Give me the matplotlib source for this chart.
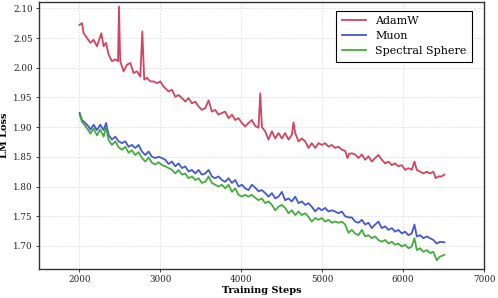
import matplotlib
matplotlib.use("Agg")
import matplotlib.pyplot as plt

# AdamW (red)
adamw_steps = [2000, 2033, 2053, 2095, 2136, 2177, 2218, 2272, 2300, 2330,
               2362, 2403, 2444, 2478, 2490, 2505, 2547, 2589, 2630, 2670,
               2712, 2753, 2778, 2802, 2835, 2877, 2918, 2959, 3000, 3041,
               3082, 3103, 3144, 3185, 3226, 3268, 3309, 3350, 3391, 3432,
               3473, 3514, 3556, 3597, 3638, 3679, 3720, 3761, 3802, 3844,
               3885, 3926, 3967, 4008, 4049, 4090, 4131, 4173, 4214, 4235,
               4256, 4296, 4337, 4379, 4420, 4461, 4502, 4543, 4584, 4625,
               4646, 4667, 4708, 4749, 4790, 4831, 4872, 4914, 4955, 4996,
               5037, 5078, 5119, 5160, 5202, 5243, 5284, 5313, 5333, 5366,
               5407, 5449, 5490, 5531, 5572, 5613, 5654, 5695, 5737, 5778,
               5819, 5860, 5901, 5942, 5984, 6025, 6066, 6107, 6140, 6169,
               6210, 6251, 6292, 6333, 6374, 6403, 6436, 6477, 6510]
adamw_loss = [2.072, 2.075, 2.058, 2.050, 2.042, 2.047, 2.036, 2.058, 2.036, 2.042,
              2.022, 2.011, 2.014, 2.011, 2.103, 2.011, 1.994, 2.005, 2.008, 1.991,
              1.994, 1.985, 2.061, 1.980, 1.983, 1.977, 1.977, 1.974, 1.977, 1.968,
              1.963, 1.960, 1.963, 1.951, 1.954, 1.949, 1.943, 1.949, 1.940, 1.943,
              1.935, 1.929, 1.932, 1.945, 1.926, 1.929, 1.921, 1.924, 1.926, 1.915,
              1.921, 1.912, 1.915, 1.907, 1.901, 1.907, 1.912, 1.902, 1.899, 1.957,
              1.900, 1.893, 1.879, 1.893, 1.881, 1.890, 1.881, 1.890, 1.879, 1.887,
              1.908, 1.890, 1.876, 1.881, 1.876, 1.865, 1.873, 1.865, 1.873, 1.870,
              1.873, 1.867, 1.870, 1.865, 1.867, 1.862, 1.860, 1.848, 1.855, 1.856,
              1.854, 1.848, 1.854, 1.845, 1.851, 1.842, 1.848, 1.853, 1.845, 1.839,
              1.842, 1.836, 1.839, 1.834, 1.836, 1.828, 1.831, 1.828, 1.842, 1.828,
              1.825, 1.822, 1.825, 1.822, 1.825, 1.814, 1.817, 1.817, 1.820]

# Muon (blue) and Spectral Sphere (green) share the same logged steps
steps = [2004, 2033, 2074, 2115, 2136, 2177, 2218, 2259, 2300, 2330,
         2362, 2403, 2444, 2486, 2527, 2568, 2609, 2650, 2691, 2732,
         2774, 2815, 2856, 2897, 2938, 2979, 3021, 3062, 3103, 3144,
         3185, 3226, 3268, 3309, 3350, 3391, 3432, 3473, 3514, 3556,
         3597, 3638, 3679, 3720, 3761, 3802, 3844, 3885, 3926, 3967,
         4008, 4049, 4090, 4131, 4173, 4214, 4255, 4296, 4337, 4379,
         4420, 4461, 4502, 4543, 4584, 4625, 4667, 4708, 4749, 4790,
         4831, 4872, 4914, 4955, 4996, 5037, 5078, 5119, 5160, 5202,
         5243, 5284, 5325, 5366, 5407, 5449, 5490, 5531, 5572, 5613,
         5654, 5695, 5737, 5778, 5819, 5860, 5901, 5942, 5984, 6025,
         6066, 6107, 6140, 6169, 6210, 6251, 6292, 6333, 6374, 6415,
         6456, 6510]
muon_loss = [1.924, 1.912, 1.907, 1.901, 1.896, 1.904, 1.895, 1.904, 1.895, 1.907,
             1.887, 1.879, 1.884, 1.876, 1.873, 1.876, 1.867, 1.870, 1.865, 1.870,
             1.859, 1.853, 1.859, 1.850, 1.848, 1.850, 1.848, 1.845, 1.838, 1.842,
             1.834, 1.839, 1.831, 1.834, 1.825, 1.828, 1.822, 1.828, 1.820, 1.822,
             1.828, 1.817, 1.814, 1.817, 1.811, 1.808, 1.814, 1.806, 1.811, 1.800,
             1.803, 1.797, 1.794, 1.803, 1.798, 1.792, 1.794, 1.789, 1.783, 1.789,
             1.780, 1.783, 1.791, 1.777, 1.780, 1.775, 1.783, 1.772, 1.775, 1.769,
             1.772, 1.766, 1.758, 1.764, 1.760, 1.764, 1.758, 1.760, 1.758, 1.755,
             1.758, 1.750, 1.748, 1.748, 1.741, 1.739, 1.744, 1.736, 1.739, 1.730,
             1.736, 1.741, 1.730, 1.733, 1.727, 1.730, 1.724, 1.727, 1.721, 1.724,
             1.718, 1.721, 1.736, 1.716, 1.718, 1.713, 1.716, 1.713, 1.710, 1.704,
             1.707, 1.706]
sphere_loss = [1.921, 1.909, 1.902, 1.894, 1.889, 1.898, 1.886, 1.896, 1.884, 1.900,
               1.878, 1.870, 1.876, 1.866, 1.862, 1.867, 1.857, 1.861, 1.853, 1.858,
               1.848, 1.842, 1.849, 1.840, 1.837, 1.841, 1.836, 1.834, 1.831, 1.828,
               1.822, 1.828, 1.820, 1.822, 1.814, 1.817, 1.811, 1.814, 1.806, 1.808,
               1.817, 1.806, 1.803, 1.800, 1.803, 1.797, 1.803, 1.791, 1.797, 1.786,
               1.783, 1.786, 1.783, 1.786, 1.781, 1.777, 1.780, 1.772, 1.775, 1.769,
               1.760, 1.766, 1.769, 1.764, 1.755, 1.760, 1.752, 1.758, 1.752, 1.755,
               1.749, 1.741, 1.747, 1.744, 1.747, 1.741, 1.744, 1.739, 1.741, 1.739,
               1.741, 1.736, 1.722, 1.727, 1.721, 1.718, 1.727, 1.716, 1.718, 1.713,
               1.716, 1.710, 1.707, 1.710, 1.704, 1.707, 1.702, 1.704, 1.699, 1.702,
               1.696, 1.699, 1.713, 1.693, 1.696, 1.690, 1.693, 1.688, 1.690, 1.676,
               1.682, 1.685]

xticks = [2000, 3000, 4000, 5000, 6000, 7000]
yticks = [1.70, 1.75, 1.80, 1.85, 1.90, 1.95, 2.00, 2.05, 2.10]

plt.rcParams['font.family'] = 'DejaVu Serif'

fig = plt.figure(figsize=(4.98, 2.98), dpi=100)
ax = fig.add_axes([0.078, 0.097, 0.894, 0.895])

ax.plot(adamw_steps, adamw_loss, color='#d03a56', lw=1.3, alpha=0.95, label='AdamW')
ax.plot(steps, muon_loss, color='#3a4fd2', lw=1.3, alpha=0.95, label='Muon')
ax.plot(steps, sphere_loss, color='#3aa832', lw=1.3, alpha=0.95, label='Spectral Sphere')

ax.set_xlim(1500, 7000)
ax.set_ylim(1.661, 2.11)
ax.set_xticks(xticks)
ax.set_yticks(yticks)
ax.set_yticklabels([f'{v:.2f}' for v in yticks])
ax.tick_params(labelsize=6.3, length=2.5, width=0.6, colors='#222222', pad=2)

ax.grid(True, ls='--', lw=0.5, color='#dddddd')
ax.set_axisbelow(True)
for s in ax.spines.values():
    s.set_color('#333333')
    s.set_linewidth(1.0)

ax.set_xlabel('Training Steps', fontsize=7, fontweight='bold', labelpad=1)
ax.set_ylabel('LM Loss', fontsize=7, fontweight='bold')
ax.yaxis.set_label_coords(-0.068, 0.5)

leg = ax.legend(loc='upper right', fontsize=8, fancybox=False, framealpha=1,
                edgecolor='black', handlelength=2.2, borderpad=0.5,
                labelspacing=0.45, bbox_to_anchor=(0.986, 0.99))
leg.get_frame().set_linewidth(0.8)

fig.savefig('out.png', dpi=100)
